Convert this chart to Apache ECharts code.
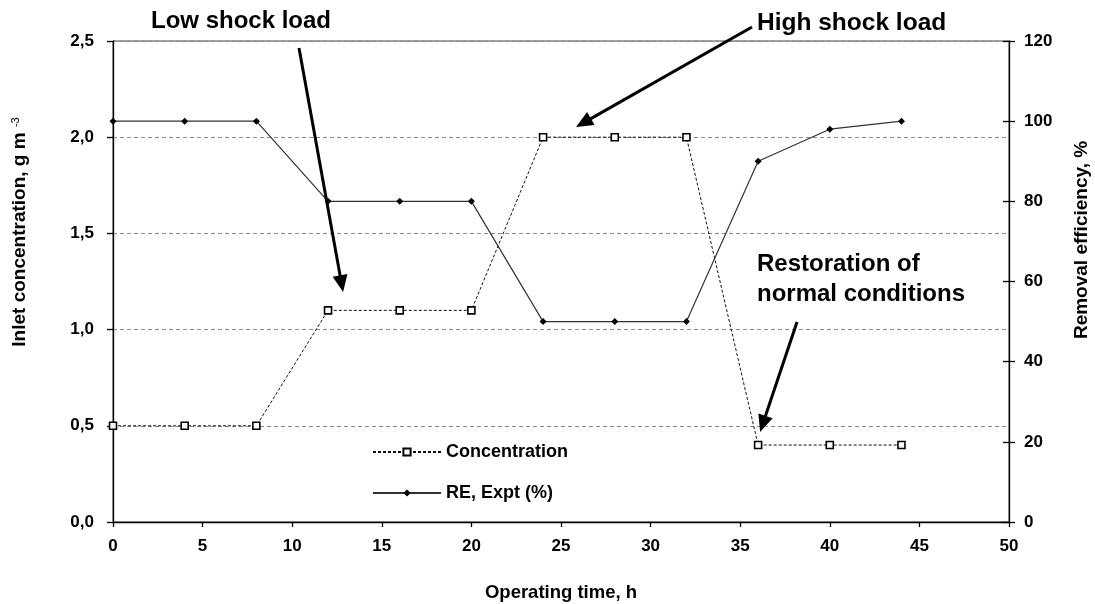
<!DOCTYPE html>
<html>
<head>
<meta charset="utf-8">
<script src="https://cdn.jsdelivr.net/npm/echarts@6/dist/echarts.min.js"></script>
<style>
  html, body { margin: 0; padding: 0; background: #ffffff; }
  #chart { width: 1095px; height: 604px; }
</style>
</head>
<body>
<div id="chart"></div>
<script>
// Operating time (h) and the two measured series
const hours = [0, 4, 8, 12, 16, 20, 24, 28, 32, 36, 40, 44];
const concentration = [0.5, 0.5, 0.5, 1.1, 1.1, 1.1, 2.0, 2.0, 2.0, 0.4, 0.4, 0.4];
const removalEfficiency = [100, 100, 100, 80, 80, 80, 50, 50, 50, 90, 98, 100];

// Axis tick labels
const timeTicks = ['0', '5', '10', '15', '20', '25', '30', '35', '40', '45', '50'];
const concTicks = ['0,0', '0,5', '1,0', '1,5', '2,0', '2,5'];
const reTicks = ['0', '20', '40', '60', '80', '100', '120'];

// Series names
const seriesNames = ['Concentration', 'RE, Expt (%)'];

// Annotation arrows, given in axis units (hours, g m-3) as [tail, head]
const arrowLow = [[10.38, 2.464], [12.84, 1.195]];
const arrowHigh = [[35.66, 2.573], [25.84, 2.053]];
const arrowRestore = [[38.17, 1.040], [36.11, 0.468]];

const FONT = '"Liberation Sans", Arial, Helvetica, sans-serif';

const chart = echarts.init(document.getElementById('chart'), null, { renderer: 'canvas' });

const tickLabelStyle = { fontFamily: FONT, fontWeight: 'bold', fontSize: 17, color: '#000' };

const option = {
  animation: false,
  backgroundColor: '#ffffff',
  grid: {
    left: 113, right: 86, top: 41, bottom: 82,
    show: true, borderColor: '#444', borderWidth: 1, backgroundColor: 'transparent'
  },
  legend: {
    orient: 'vertical',
    left: 372, top: 443, padding: 0,
    itemWidth: 68, itemHeight: 9, itemGap: 23,
    textStyle: { fontFamily: FONT, fontWeight: 'bold', fontSize: 18, color: '#000' },
    data: seriesNames
  },
  xAxis: {
    type: 'value', min: 0, max: 50, interval: 5,
    axisLine: { show: true, onZero: false, lineStyle: { color: '#000', width: 1.3 } },
    axisTick: { show: true, inside: false, length: 5, lineStyle: { color: '#000', width: 1.3 } },
    axisLabel: Object.assign({ margin: 16, formatter: (v) => timeTicks[Math.round(v / 5)] }, tickLabelStyle),
    splitLine: { show: false }
  },
  yAxis: [
    {
      type: 'value', position: 'left', min: 0, max: 2.5, interval: 0.5,
      axisLine: { show: true, onZero: false, lineStyle: { color: '#000', width: 1.3 } },
      axisTick: { show: true, inside: false, length: 6, lineStyle: { color: '#000', width: 1.3 } },
      axisLabel: Object.assign({ margin: 19, formatter: (v) => concTicks[Math.round(v / 0.5)] }, tickLabelStyle),
      splitLine: { show: true, lineStyle: { color: '#888', width: 1, type: [4, 3] } }
    },
    {
      type: 'value', position: 'right', min: 0, max: 120, interval: 20,
      axisLine: { show: true, onZero: false, lineStyle: { color: '#000', width: 1.3 } },
      axisTick: { show: true, inside: false, length: 6, lineStyle: { color: '#000', width: 1.3 } },
      axisLabel: Object.assign({ margin: 15, formatter: (v) => reTicks[Math.round(v / 20)] }, tickLabelStyle),
      splitLine: { show: false }
    },
    {
      // inner half of the crossing ticks on the right axis
      type: 'value', position: 'right', min: 0, max: 120, interval: 20,
      axisLine: { show: false, onZero: false },
      axisTick: { show: true, inside: true, length: 6, lineStyle: { color: '#000', width: 1.3 } },
      axisLabel: { show: false },
      splitLine: { show: false }
    }
  ],
  series: [
    {
      name: seriesNames[0],
      type: 'line',
      yAxisIndex: 0,
      data: hours.map((h, i) => [h, concentration[i]]),
      symbol: 'rect', symbolSize: 7,
      itemStyle: { color: '#ffffff', borderColor: '#000', borderWidth: 1.6 },
      lineStyle: { color: '#111', width: 1, type: [3, 2] },
      z: 3
    },
    {
      name: seriesNames[1],
      type: 'line',
      yAxisIndex: 1,
      data: hours.map((h, i) => [h, removalEfficiency[i]]),
      symbol: 'diamond', symbolSize: 7,
      itemStyle: { color: '#000', borderColor: '#000', borderWidth: 0 },
      lineStyle: { color: '#333', width: 1.2, type: 'solid' },
      z: 3
    }
  ]
};

chart.setOption(option);

// Arrow (shaft + filled head) between two points given in axis units
function arrow(pair) {
  const a = chart.convertToPixel({ xAxisIndex: 0, yAxisIndex: 0 }, pair[0]);
  const b = chart.convertToPixel({ xAxisIndex: 0, yAxisIndex: 0 }, pair[1]);
  const dx = b[0] - a[0], dy = b[1] - a[1];
  const len = Math.sqrt(dx * dx + dy * dy);
  const ux = dx / len, uy = dy / len;
  const headLen = 17, headHalf = 7.5;
  const bx = b[0] - ux * headLen, by = b[1] - uy * headLen;
  const px = -uy, py = ux;
  return [
    {
      type: 'line', z: 10, silent: true,
      shape: { x1: a[0], y1: a[1], x2: bx + ux * 2, y2: by + uy * 2 },
      style: { stroke: '#000', lineWidth: 3 }
    },
    {
      type: 'polygon', z: 10, silent: true,
      shape: { points: [[b[0], b[1]], [bx + px * headHalf, by + py * headHalf], [bx - px * headHalf, by - py * headHalf]] },
      style: { fill: '#000' }
    }
  ];
}

function label(text, x, y, size) {
  return {
    type: 'text', z: 10, silent: true, x: x, y: y,
    style: {
      text: text, fill: '#000', font: 'bold ' + size + 'px ' + FONT,
      textAlign: 'left', textVerticalAlign: 'middle'
    }
  };
}

const graphics = []
  .concat(arrow(arrowLow), arrow(arrowHigh), arrow(arrowRestore))
  .concat([
    label('Low shock load', 151, 21, 24),
    label('High shock load', 757, 23, 24.5),
    label('Restoration of', 757, 264, 24),
    label('normal conditions', 757, 294, 24),
    {
      type: 'text', z: 10, silent: true, x: 561, y: 593,
      style: { text: 'Operating time, h', fill: '#000', font: 'bold 18.5px ' + FONT, textAlign: 'center', textVerticalAlign: 'middle' }
    },
    {
      type: 'text', z: 10, silent: true, x: 20, y: 232, rotation: Math.PI / 2,
      style: {
        text: '{a|Inlet concentration, g m }{b|-3}',
        textAlign: 'center', textVerticalAlign: 'middle', fill: '#000',
        rich: {
          a: { fontFamily: FONT, fontWeight: 'bold', fontSize: 19, color: '#000', verticalAlign: 'bottom' },
          b: { fontFamily: FONT, fontWeight: 'normal', fontSize: 11, color: '#000', verticalAlign: 'top' }
        }
      }
    },
    {
      type: 'text', z: 10, silent: true, x: 1082, y: 240, rotation: Math.PI / 2,
      style: { text: 'Removal efficiency, %', fill: '#000', font: 'bold 19px ' + FONT, textAlign: 'center', textVerticalAlign: 'middle' }
    }
  ]);

chart.setOption({ graphic: graphics });
</script>
</body>
</html>
